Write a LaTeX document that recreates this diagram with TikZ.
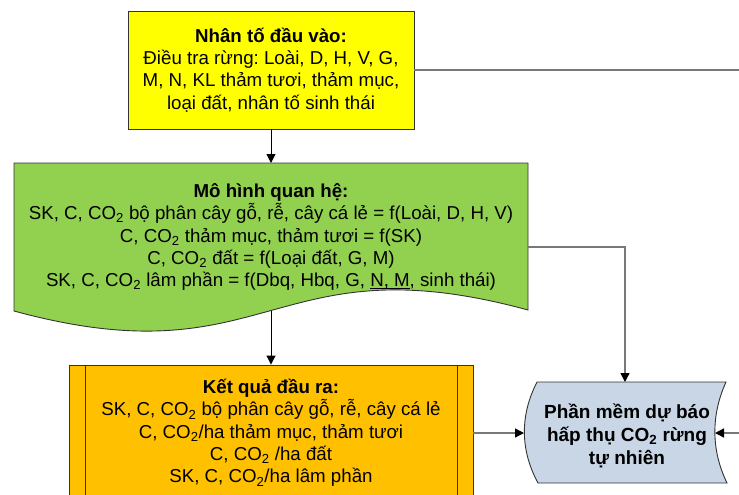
\documentclass[tikz,border=0pt]{standalone}
\usepackage{fontspec}
\setmainfont{Liberation Sans}
\usetikzlibrary{arrows.meta}
\definecolor{inyellow}{RGB}{255,255,0}
\definecolor{modgreen}{RGB}{146,208,80}
\definecolor{outorange}{RGB}{255,192,0}
\definecolor{softblue}{RGB}{200,214,230}
\definecolor{linegray}{RGB}{120,120,120}
\frenchspacing
% underline with a visible rule
\newsavebox\ulbox
\newcommand\thickul[1]{\sbox\ulbox{#1}\rlap{\rule[-2.6pt]{\wd\ulbox}{1pt}}\usebox\ulbox}

\begin{document}
\begin{tikzpicture}[x=1pt,y=-1pt,
  txt/.style={align=center, font=\fontsize{18.7}{22.3}\selectfont, inner sep=0pt},
  shapeline/.style={draw=black!80, line width=0.9pt},
  flow/.style={draw=black, line width=1pt, -{Triangle[width=9pt,length=9pt]}},
  link/.style={draw=linegray, line width=1.4pt, -{Triangle[width=9pt,length=9pt,color=black]}}]
\useasboundingbox (0,0) rectangle (739,495);

% input factors
\node[shapeline, fill=inyellow, minimum width=286pt, minimum height=118pt, txt] (inp) at (271,70)
  {\textbf{Nhân tố đầu vào:}\\Điều tra rừng: Loài, D, H, V, G,\\M, N, KL thảm tươi, thảm mục,\\loại đất, nhân tố sinh thái};

% relationship models (document shape)
\path[shapeline, fill=modgreen] (14,163) -- (528,163) -- (528,310)
  .. controls (271,240) and (271,381) .. (14,311) -- cycle;
\node[txt] (mod) at (271,237)
  {\textbf{Mô hình quan hệ:}\\
   SK, C, CO\textsubscript{2} bộ phân cây gỗ, rễ, cây cá lẻ = f(Loài, D, H, V)\\
   C, CO\textsubscript{2} thảm mục, thảm tươi = f(SK)\\
   C, CO\textsubscript{2} đất = f(Loại đất, G, M)\\
   SK, C, CO\textsubscript{2} lâm phần = f(Dbq, Hbq, G, \thickul{N, M}, sinh thái)};
\coordinate (modT) at (271,163);
\coordinate (modB) at (271,310.5);
\coordinate (modR) at (528,247);

% output results (predefined process)
\node[shapeline, fill=outorange, minimum width=404pt, minimum height=136pt, txt] (out) at (271,433)
  {\textbf{Kết quả đầu ra:}\\
   SK, C, CO\textsubscript{2} bộ phân cây gỗ, rễ, cây cá lẻ\\
   C, CO\textsubscript{2}/ha thảm mục, thảm tươi\\
   C, CO\textsubscript{2} /ha đất\\
   SK, C, CO\textsubscript{2}/ha lâm phần};
\draw[shapeline] ([xshift=17pt]out.north west) -- ([xshift=17pt]out.south west);
\draw[shapeline] ([xshift=-16pt]out.north east) -- ([xshift=-16pt]out.south east);

% forecasting software (stored data shape)
\path[shapeline, fill=softblue] (537,382) -- (726,382)
  .. controls (711,415) and (711,450) .. (727,483) -- (538,483)
  .. controls (520,450) and (520,415) .. (537,382) -- cycle;
\node[txt, font=\fontsize{19}{23}\selectfont\bfseries] (soft) at (627,436)
  {Phần mềm dự báo\\hấp thụ CO\textsubscript{2} rừng\\tự nhiên};
\coordinate (softT) at (625,382);
\coordinate (softL) at (524,433);
\coordinate (softR) at (715,433);
\coordinate (farR) at (748,0);

% connectors
\draw[flow] (inp.south) -- (modT);
\draw[flow] (modB) -- (out.north);
\draw[link] (modR) -| (softT);
\draw[link] (out.east) -- (softL);
\draw[link] (inp.east) -| (farR |- softR) -- (softR);
\end{tikzpicture}
\end{document}
